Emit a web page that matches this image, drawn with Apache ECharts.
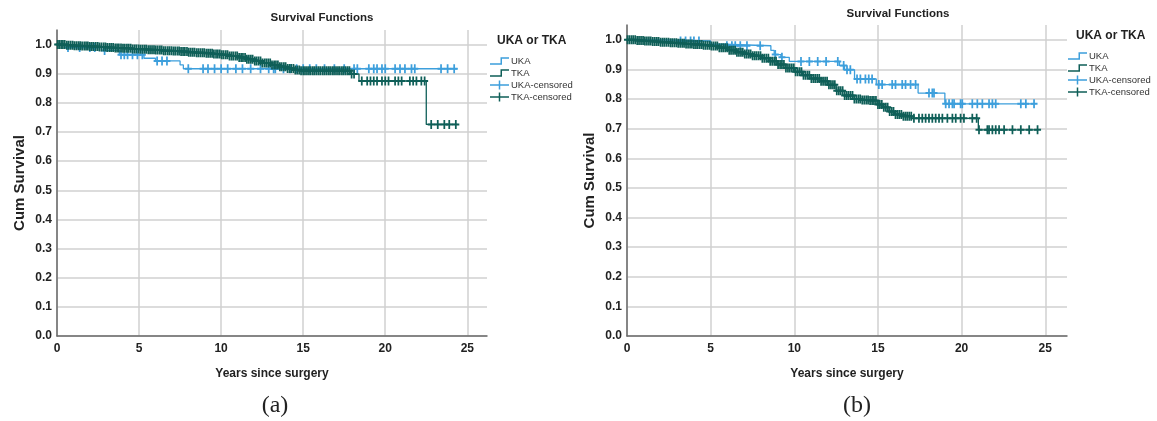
<!DOCTYPE html>
<html>
<head>
<meta charset="utf-8">
<script src="https://cdn.jsdelivr.net/npm/echarts@6/dist/echarts.min.js"></script>
<style>
  html, body { margin: 0; padding: 0; background: #fff; }
  #chart { width: 1157px; height: 421px; }
</style>
</head>
<body>
<div id="chart"></div>
<script>
// Kaplan-Meier steps, [years, cum survival]
// (a)
const ukaStepsA = [[0, 1], [0.6, 0.99], [2.9, 0.98], [3.8, 0.965], [5.3, 0.953], [6.0, 0.944],
  [7.5, 0.93], [7.7, 0.917], [24.4, 0.917]];
const tkaStepsA = [[0, 1], [0.5, 0.998], [1, 0.996], [1.5, 0.995], [2, 0.993], [2.5, 0.992], [3, 0.99],
  [3.5, 0.988], [4, 0.987], [4.5, 0.985], [5, 0.984], [5.5, 0.982], [6, 0.981], [6.5, 0.979], [7, 0.978],
  [7.5, 0.976], [8, 0.974], [8.5, 0.972], [9, 0.97], [9.5, 0.968], [10, 0.965], [10.5, 0.961],
  [11, 0.956], [11.5, 0.95], [12, 0.944], [12.5, 0.937], [13, 0.93], [13.5, 0.924], [14, 0.918],
  [14.5, 0.913], [14.8, 0.91], [17.9, 0.899], [18.4, 0.875], [22.5, 0.726], [24.4, 0.726]];
const ukaCensA = [0.67, 1.38, 2.0, 2.3, 2.9, 3.9, 4.1, 4.3, 4.6, 4.9, 5.2, 6.1, 6.4, 6.7, 8.0, 8.9, 9.2,
  9.6, 10.0, 10.4, 10.9, 11.3, 11.8, 12.4, 12.9, 13.2, 13.3, 13.8, 14.2, 14.6, 15.0, 15.4, 15.8, 16.3,
  16.9, 17.5, 18.1, 18.3, 19.0, 19.3, 19.5, 19.8, 20.0, 20.6, 20.9, 21.2, 21.6, 21.8, 23.4, 23.8, 24.2];
const tkaCensA = [0.04, 0.13, 0.25, 0.36, 0.47, 0.6, 0.71, 0.83, 0.95, 1.06, 1.18, 1.3, 1.41, 1.53,
  1.66, 1.77, 1.88, 2.0, 2.12, 2.23, 2.36, 2.48, 2.59, 2.71, 2.84, 2.95, 3.06, 3.19, 3.3, 3.42, 3.55,
  3.66, 3.77, 3.9, 4.02, 4.13, 4.26, 4.37, 4.49, 4.61, 4.73, 4.84, 4.97, 5.08, 5.2, 5.32, 5.43, 5.56,
  5.67, 5.79, 5.91, 6.02, 6.14, 6.27, 6.38, 6.5, 6.61, 6.74, 6.85, 6.97, 7.09, 7.2, 7.33, 7.44, 7.56,
  7.68, 7.79, 7.92, 8.03, 8.15, 8.27, 8.38, 8.51, 8.62, 8.74, 8.86, 8.97, 9.1, 9.21, 9.33, 9.45, 9.56,
  9.69, 9.8, 9.92, 10.04, 10.15, 10.28, 10.39, 10.51, 10.63, 10.74, 10.87, 10.98, 11.1, 11.22, 11.33,
  11.46, 11.57, 11.69, 11.81, 11.92, 12.05, 12.16, 12.28, 12.4, 12.51, 12.64, 12.75, 12.87, 12.99,
  13.1, 13.23, 13.34, 13.46, 13.58, 13.69, 13.82, 13.93, 14.05, 14.17, 14.28, 14.41, 14.52, 14.64,
  14.76, 14.87, 15.0, 15.11, 15.23, 15.35, 15.46, 15.59, 15.7, 15.82, 15.94, 16.05, 16.18, 16.29,
  16.41, 16.53, 16.64, 16.77, 16.88, 17.0, 17.12, 17.23, 17.36, 17.47, 17.59, 17.71, 17.82, 17.95, 18.1,
  18.57, 18.9, 19.1, 19.3, 19.5, 19.8, 20.0, 20.2, 20.6, 20.8, 21.0, 21.5, 21.7, 21.9, 22.2, 22.4,
  22.8, 23.2, 23.6, 23.9, 24.3];

// (b)
const ukaStepsB = [[0, 1], [2, 0.996], [5, 0.985], [5.8, 0.98], [8.6, 0.964], [8.8, 0.95], [9.2, 0.941],
  [9.7, 0.927], [12.7, 0.913], [13.0, 0.899], [13.6, 0.868], [14.9, 0.849], [17.4, 0.82], [19.0, 0.784],
  [24.4, 0.784]];
const tkaStepsB = [[0, 1], [0.5, 0.998], [1, 0.996], [1.5, 0.994], [2, 0.992], [2.5, 0.99], [3, 0.988],
  [3.5, 0.986], [4, 0.984], [4.5, 0.982], [5, 0.979], [5.5, 0.973], [6, 0.965], [6.5, 0.958], [7, 0.952],
  [7.5, 0.946], [8, 0.938], [8.5, 0.928], [9, 0.917], [9.5, 0.905], [10, 0.892], [10.5, 0.88],
  [11, 0.869], [11.5, 0.86], [12, 0.848], [12.5, 0.828], [13, 0.812], [13.5, 0.8], [14, 0.797],
  [14.5, 0.795], [15, 0.782], [15.3, 0.772], [15.6, 0.758], [16, 0.748], [16.5, 0.742], [17, 0.735],
  [21.0, 0.696], [24.5, 0.696]];
const ukaCensB = [3.2, 3.5, 3.8, 4.0, 4.3, 5.97, 6.27, 6.47, 6.77, 7.17, 7.96, 8.86, 9.26, 10.4, 10.9,
  11.4, 11.9, 12.6, 12.95, 13.15, 13.35, 13.75, 13.95, 14.25, 14.45, 14.65, 15.05, 15.25, 15.85, 16.05,
  16.45, 16.65, 16.95, 17.25, 18.05, 18.25, 18.35, 19.05, 19.25, 19.45, 19.55, 19.94, 20.04, 20.64,
  20.94, 21.24, 21.64, 21.84, 22.04, 23.54, 23.84, 24.33];
const tkaCensB = [0.03, 0.14, 0.26, 0.37, 0.49, 0.61, 0.72, 0.84, 0.96, 1.07, 1.19, 1.31, 1.42, 1.54,
  1.66, 1.78, 1.89, 2.01, 2.13, 2.24, 2.36, 2.48, 2.6, 2.71, 2.83, 2.95, 3.06, 3.18, 3.3, 3.41, 3.53,
  3.65, 3.77, 3.88, 4.0, 4.12, 4.23, 4.35, 4.47, 4.58, 4.7, 4.82, 4.94, 5.05, 5.17, 5.29, 5.4, 5.52,
  5.64, 5.75, 5.87, 5.99, 6.11, 6.22, 6.34, 6.46, 6.57, 6.69, 6.81, 6.92, 7.04, 7.16, 7.28, 7.39, 7.51,
  7.63, 7.74, 7.86, 7.98, 8.09, 8.21, 8.33, 8.45, 8.56, 8.68, 8.8, 8.91, 9.03, 9.15, 9.26, 9.38, 9.5,
  9.62, 9.73, 9.85, 9.97, 10.08, 10.2, 10.32, 10.43, 10.55, 10.67, 10.79, 10.9, 11.02, 11.14, 11.25,
  11.37, 11.49, 11.6, 11.72, 11.84, 11.96, 12.07, 12.19, 12.31, 12.42, 12.54, 12.66, 12.77, 12.89,
  13.01, 13.13, 13.24, 13.36, 13.48, 13.59, 13.71, 13.83, 13.94, 14.06, 14.18, 14.3, 14.41, 14.53,
  14.65, 14.76, 14.88, 15.0, 15.11, 15.23, 15.35, 15.47, 15.58, 15.7, 15.82, 15.93, 16.05, 16.17,
  16.28, 16.4, 16.52, 16.64, 16.75, 16.87, 16.99,
  17.15, 17.45, 17.65, 17.85, 18.05, 18.25, 18.45, 18.65, 18.85, 19.15, 19.45, 19.65, 19.94, 20.14,
  20.64, 20.9, 21.04, 21.54, 21.64, 21.84, 22.04, 22.24, 22.54, 23.04, 23.54, 24.04, 24.54];

const yTicks = [0, 0.1, 0.2, 0.3, 0.4, 0.5, 0.6, 0.7, 0.8, 0.9, 1.0];
const xTicks = [0, 5, 10, 15, 20, 25];

const UKA = '#3d9fdc';
const TKA = '#0f5f58';
const FONT = '"Liberation Sans", Arial, sans-serif';

// survival value in force at time t (censor marks sit on the curve)
function survAt(steps, t) {
  let s = steps[0][1];
  for (const [x, y] of steps) {
    if (x <= t) s = y;
  }
  return s;
}
function marks(steps, times) {
  return times.map(t => [t, survAt(steps, t)]);
}

const plus = 'path://M3,0h2v3.5h3v2h-3v3.5h-2v-3.5h-3v-2h3z';
const stepIcon = 'path://M0,7H10.5V1H19V2.5H12V8.5H0Z';
const plusIcon = 'path://M0,3.75H8.75V0H10.25V3.75H19V5.25H10.25V9H8.75V5.25H0Z';

function xAxis(gridIndex, max) {
  return {
    gridIndex, type: 'value', min: 0, max, interval: 5,
    name: 'Years since surgery', nameLocation: 'middle', nameGap: 32,
    nameTextStyle: { fontFamily: FONT, fontWeight: 'bold', fontSize: 12, color: '#222' },
    axisLine: { show: true, lineStyle: { color: '#6a6a6a', width: 1.5 } },
    axisTick: { show: false },
    axisLabel: {
      fontFamily: FONT, fontWeight: 'bold', fontSize: 12, color: '#222', margin: 7,
      showMaxLabel: false,
      formatter: v => (xTicks.includes(v) ? String(v) : '')
    },
    splitLine: { show: true, showMaxLine: false, lineStyle: { color: '#d0d0d0', width: 1.5 } }
  };
}
function yAxis(gridIndex) {
  return {
    gridIndex, type: 'value', min: 0, max: 1.05, interval: 0.1,
    name: 'Cum Survival', nameLocation: 'middle', nameGap: 30,
    nameTextStyle: { fontFamily: FONT, fontWeight: 'bold', fontSize: 15, color: '#222' },
    axisLine: { show: true, lineStyle: { color: '#6a6a6a', width: 1.5 } },
    axisTick: { show: false },
    axisLabel: {
      fontFamily: FONT, fontWeight: 'bold', fontSize: 12, color: '#222', margin: 5,
      showMaxLabel: false,
      formatter: v => {
        const hit = yTicks.find(t => Math.abs(t - v) < 1e-6);
        return hit === undefined ? '' : hit.toFixed(1);
      }
    },
    splitLine: { show: true, showMaxLine: false, lineStyle: { color: '#d0d0d0', width: 1.5 } }
  };
}
function kmLine(name, idx, data, color) {
  return {
    name, type: 'line', xAxisIndex: idx, yAxisIndex: idx, data, step: 'end',
    showSymbol: false, symbol: 'none', color,
    lineStyle: { color, width: 1.3 }, z: 2, silent: true
  };
}
function censScatter(name, idx, data, color) {
  return {
    name, type: 'scatter', xAxisIndex: idx, yAxisIndex: idx, data,
    symbol: plus, symbolSize: [7, 9], color,
    itemStyle: { color, opacity: 1 }, z: 3, silent: true
  };
}
function legend(left, top) {
  const item = (name, icon, color) => ({ name, icon, itemStyle: { color, borderWidth: 0, opacity: 1 } });
  return {
    left, top, orient: 'vertical', padding: 0, itemGap: 2, itemWidth: 19, itemHeight: 10,
    selectedMode: false,
    textStyle: { fontFamily: FONT, fontSize: 9.5, color: '#333', padding: [0, 0, 0, -3] },
    data: [
      item('UKA', stepIcon, UKA),
      item('TKA', stepIcon, TKA),
      item('UKA-censored', plusIcon, UKA),
      item('TKA-censored', plusIcon, TKA)
    ]
  };
}
function label(x, y, text, font, align) {
  return {
    type: 'text', x, y,
    style: { text, font, fill: '#222', textAlign: align || 'center', textVerticalAlign: 'middle' }
  };
}

const chart = echarts.init(document.getElementById('chart'));
chart.setOption({
  animation: false,
  backgroundColor: '#fff',
  grid: [
    { left: 57, top: 30, width: 430, height: 306 },
    { left: 627, top: 25, width: 440, height: 311 }
  ],
  xAxis: [xAxis(0, 26.2), xAxis(1, 26.3)],
  yAxis: [yAxis(0), yAxis(1)],
  legend: [legend(490, 56), legend(1068, 51)],
  graphic: [
    label(322, 18, 'Survival Functions', 'bold 11.5px ' + FONT),
    label(898, 14, 'Survival Functions', 'bold 11.5px ' + FONT),
    label(497, 41, 'UKA or TKA', 'bold 12px ' + FONT, 'left'),
    label(1076, 36, 'UKA or TKA', 'bold 12px ' + FONT, 'left'),
    label(275, 406, '(a)', '24px "Liberation Serif", "Times New Roman", serif'),
    label(857, 406, '(b)', '24px "Liberation Serif", "Times New Roman", serif')
  ],
  series: [
    kmLine('UKA', 0, ukaStepsA, UKA),
    kmLine('TKA', 0, tkaStepsA, TKA),
    censScatter('UKA-censored', 0, marks(ukaStepsA, ukaCensA), UKA),
    censScatter('TKA-censored', 0, marks(tkaStepsA, tkaCensA), TKA),
    kmLine('UKA', 1, ukaStepsB, UKA),
    kmLine('TKA', 1, tkaStepsB, TKA),
    censScatter('UKA-censored', 1, marks(ukaStepsB, ukaCensB), UKA),
    censScatter('TKA-censored', 1, marks(tkaStepsB, tkaCensB), TKA)
  ]
});
</script>
</body>
</html>
